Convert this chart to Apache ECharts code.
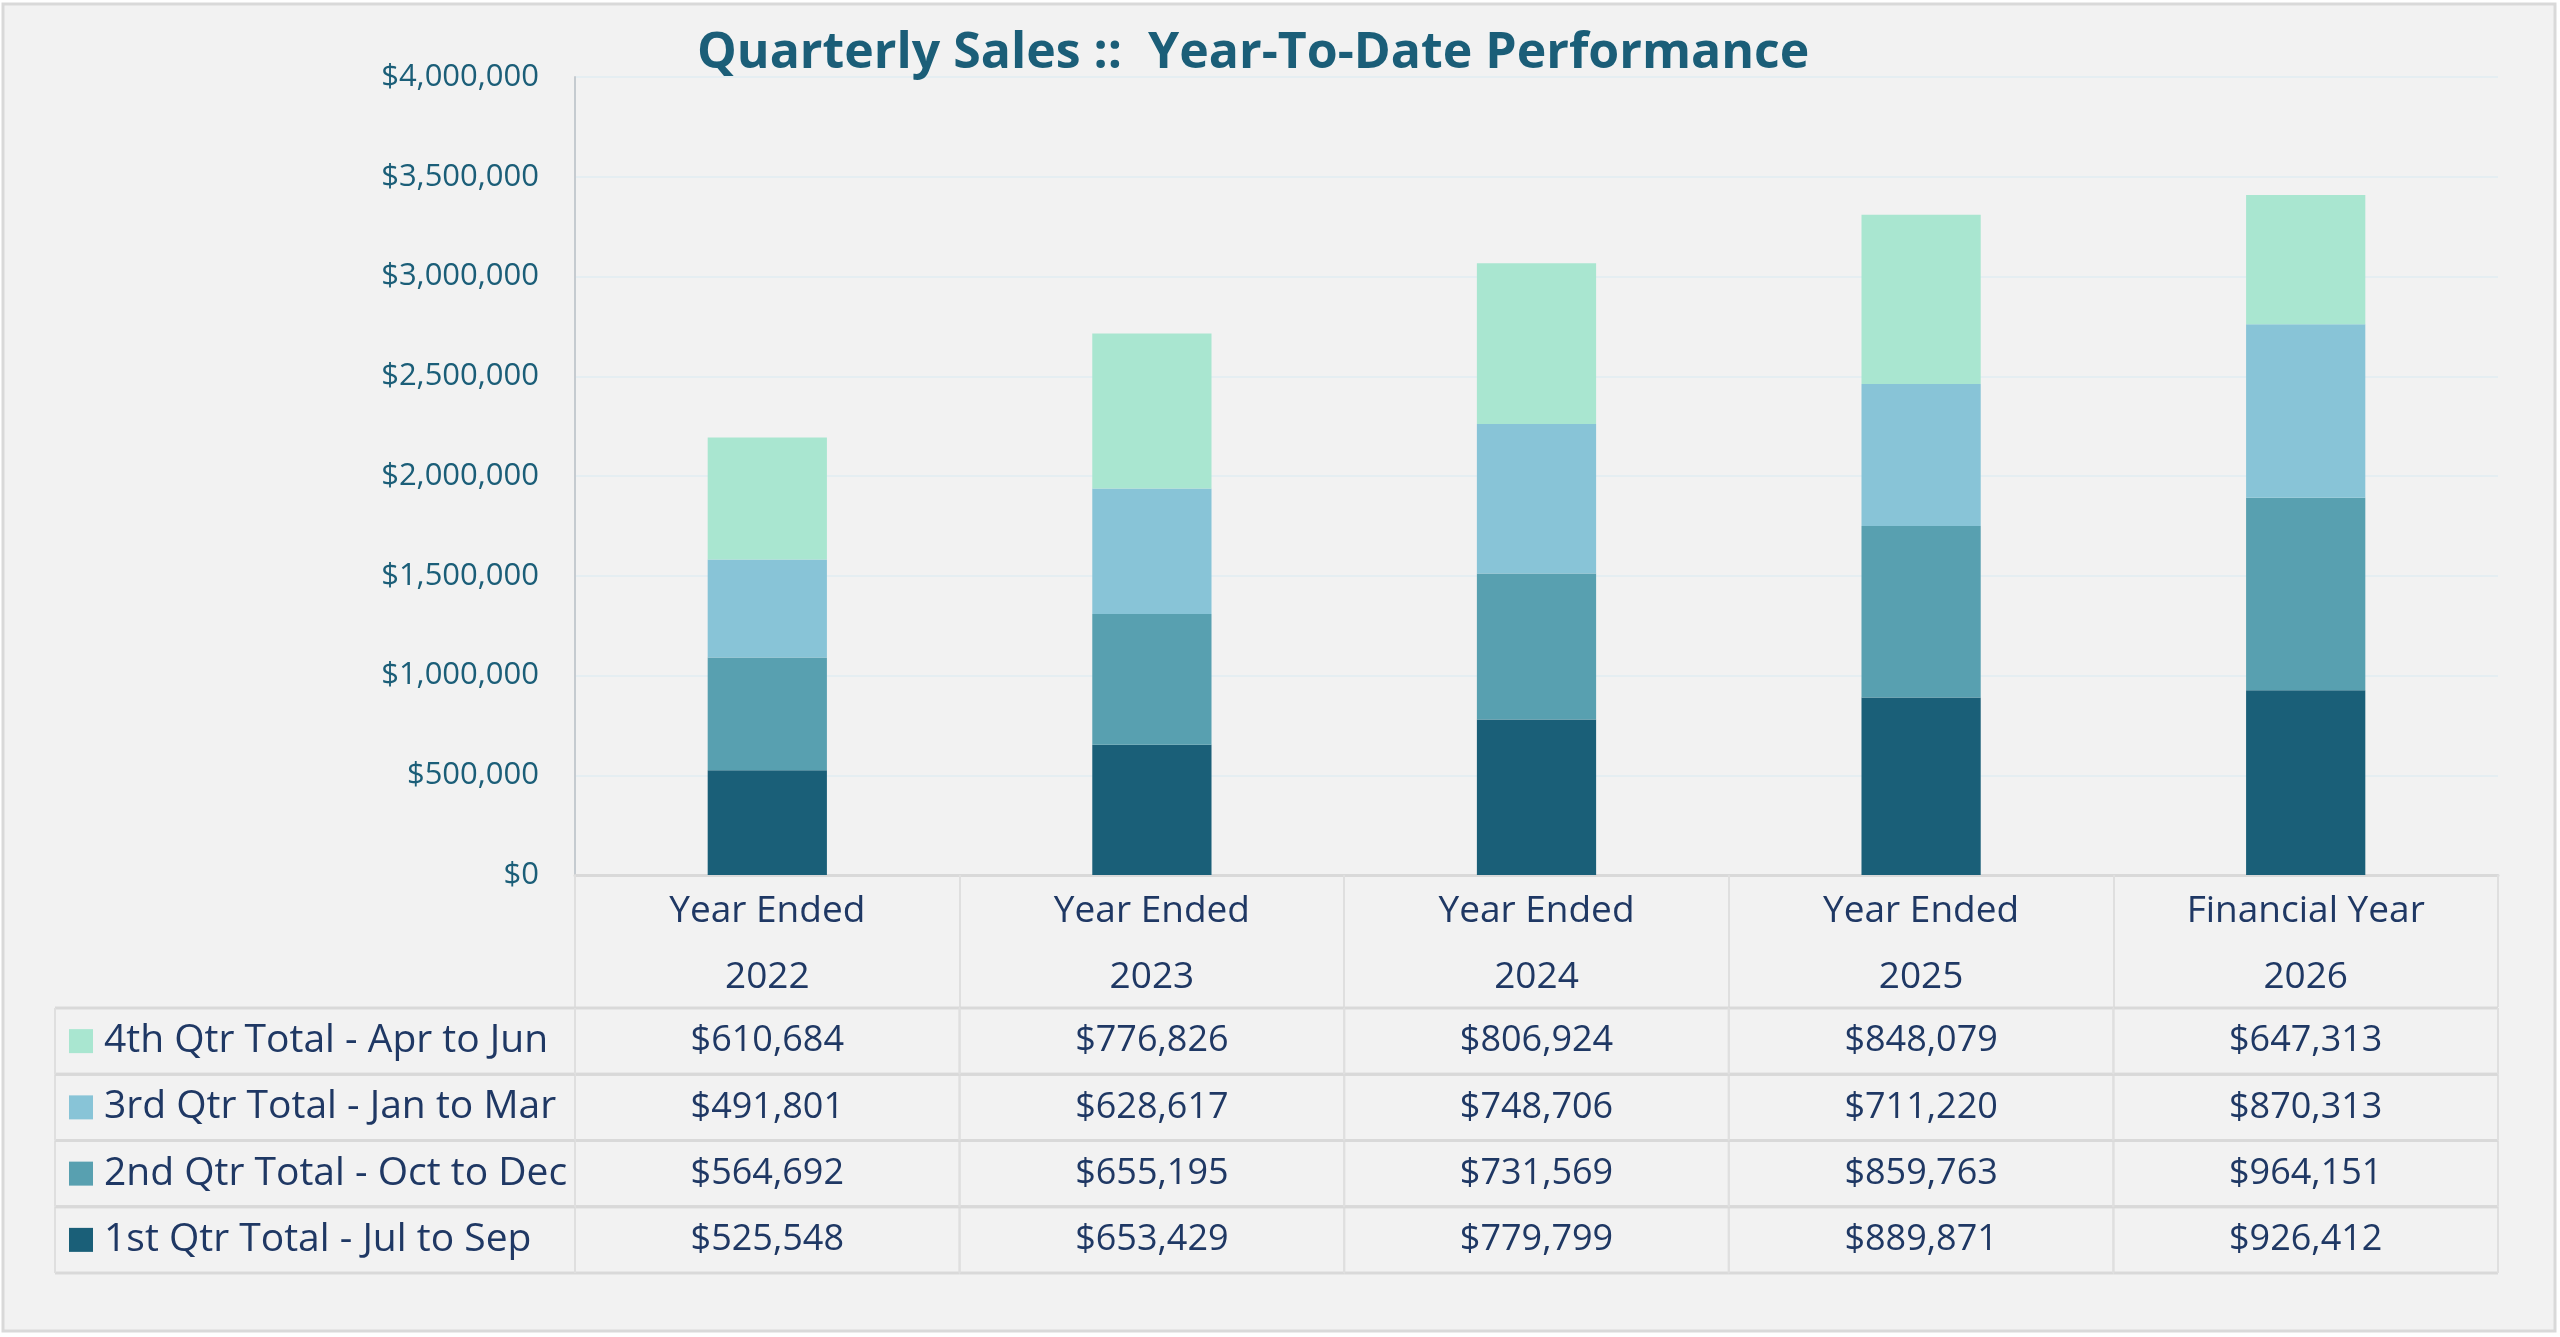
<!DOCTYPE html>
<html>
<head>
<meta charset="utf-8">
<script src="https://cdn.jsdelivr.net/npm/echarts@6/dist/echarts.min.js"></script>
<style>
  html, body { margin: 0; padding: 0; background: #ffffff; }
  #chart { width: 2560px; height: 1337px; }
</style>
</head>
<body>
<div id="chart"></div>
<script>
// categories (two header lines per column)
const catLine1 = ["Year Ended", "Year Ended", "Year Ended", "Year Ended", "Financial Year"];
const catLine2 = ["2022", "2023", "2024", "2025", "2026"];

// quarterly series, bottom of the stack first
const seriesNames = [
  "1st Qtr Total - Jul to Sep",
  "2nd Qtr Total - Oct to Dec",
  "3rd Qtr Total - Jan to Mar",
  "4th Qtr Total - Apr to Jun",
];
const q1 = [525548, 653429, 779799, 889871, 926412];
const q2 = [564692, 655195, 731569, 859763, 964151];
const q3 = [491801, 628617, 748706, 711220, 870313];
const q4 = [610684, 776826, 806924, 848079, 647313];

// value axis ticks
const yMin = 0;
const yMax = 4000000;
const yStep = 500000;

const title = "Quarterly Sales ::  Year-To-Date Performance";

const colors = ["#1a5f78", "#58a0b0", "#88c4d7", "#a9e6d0"];
const textNavy = "#1f3864";
const teal = "#1b5e78";
const hLine = "#d9d9d9";
const vLine = "#dfdfdf";
const font = '"Open Sans", "Noto Sans", sans-serif';

const seriesValues = [q1, q2, q3, q4];
const categories = catLine1.map((t, i) => t + "\n" + catLine2[i]);
const money = (v) => "$" + Math.round(v).toLocaleString("en-US");

// table cells: [col, row, value]
const cells = [];
seriesValues.forEach((vals, r) => vals.forEach((v, c) => cells.push([c, r, v])));
const legendCells = seriesNames.map((n, r) => [0, r]);

function cellBorders(x0, y0, w, h) {
  return [
    { type: "line", shape: { x1: x0, y1: y0, x2: x0 + w, y2: y0 }, style: { stroke: hLine, lineWidth: 3 } },
    { type: "line", shape: { x1: x0, y1: y0 + h, x2: x0 + w, y2: y0 + h }, style: { stroke: hLine, lineWidth: 3 } },
    { type: "line", shape: { x1: x0, y1: y0, x2: x0, y2: y0 + h }, style: { stroke: vLine, lineWidth: 2 } },
    { type: "line", shape: { x1: x0 + w, y1: y0, x2: x0 + w, y2: y0 + h }, style: { stroke: vLine, lineWidth: 2 } },
  ];
}

const chart = echarts.init(document.getElementById("chart"));

const option = {
  backgroundColor: "#ffffff",
  animation: false,
  title: {
    text: title,
    left: 692,
    top: 24,
    textStyle: { fontFamily: font, fontSize: 50, fontWeight: "bold", color: teal },
  },
  graphic: [
    {
      type: "rect",
      z: -10,
      shape: { x: 3, y: 4, width: 2552, height: 1327 },
      style: { fill: "#f2f2f2", stroke: "#d9d9d9", lineWidth: 3 },
    },
  ],
  grid: [
    { left: 575, top: 77, width: 1923, height: 798 },
    { left: 575, top: 1008, width: 1923, height: 265 },
    { left: 55, top: 1008, width: 520, height: 265 },
  ],
  xAxis: [
    {
      gridIndex: 0,
      type: "category",
      data: categories,
      axisLine: { lineStyle: { color: hLine, width: 3 } },
      axisTick: { show: true, length: 132, lineStyle: { color: vLine, width: 2 } },
      axisLabel: {
        margin: 3,
        fontFamily: font,
        fontSize: 37,
        lineHeight: 66,
        color: textNavy,
        verticalAlign: "top",
      },
    },
    { gridIndex: 1, type: "category", data: categories, show: false },
    { gridIndex: 2, type: "category", data: ["legend"], show: false },
  ],
  yAxis: [
    {
      gridIndex: 0,
      type: "value",
      min: yMin,
      max: yMax,
      interval: yStep,
      axisLine: { show: true, lineStyle: { color: "#c5cbd0", width: 2 } },
      axisTick: { show: false },
      splitLine: { lineStyle: { color: "#e5eef2", width: 2 } },
      axisLabel: {
        margin: 36,
        fontFamily: font,
        fontSize: 31,
        color: teal,
        formatter: money,
      },
    },
    { gridIndex: 1, type: "category", data: seriesNames, show: false },
    { gridIndex: 2, type: "category", data: seriesNames, show: false },
  ],
  series: seriesValues
    .map((vals, i) => ({
      name: seriesNames[i],
      type: "bar",
      stack: "total",
      xAxisIndex: 0,
      yAxisIndex: 0,
      barWidth: "31%",
      itemStyle: { color: colors[i] },
      data: vals,
    }))
    .concat([
      {
        type: "custom",
        xAxisIndex: 1,
        yAxisIndex: 1,
        data: cells,
        renderItem: function (params, api) {
          const c = api.value(0);
          const r = api.value(1);
          const p = api.coord([c, r]);
          const s = api.size([1, 1]);
          const x0 = p[0] - s[0] / 2;
          const y0 = p[1] - s[1] / 2;
          return {
            type: "group",
            children: cellBorders(x0, y0, s[0], s[1]).concat([
              {
                type: "text",
                x: p[0],
                y: p[1],
                style: {
                  text: money(api.value(2)),
                  fill: textNavy,
                  font: "36px " + font,
                  align: "center",
                  verticalAlign: "middle",
                },
              },
            ]),
          };
        },
      },
      {
        type: "custom",
        xAxisIndex: 2,
        yAxisIndex: 2,
        data: legendCells,
        renderItem: function (params, api) {
          const r = api.value(1);
          const p = api.coord([0, r]);
          const s = api.size([1, 1]);
          const x0 = p[0] - s[0] / 2;
          const y0 = p[1] - s[1] / 2;
          return {
            type: "group",
            children: cellBorders(x0, y0, s[0], s[1]).concat([
              {
                type: "rect",
                shape: { x: x0 + 14, y: p[1] - 12, width: 24, height: 24 },
                style: { fill: colors[r] },
              },
              {
                type: "text",
                x: x0 + 49,
                y: p[1],
                style: {
                  text: seriesNames[r],
                  fill: textNavy,
                  font: "39px " + font,
                  align: "left",
                  verticalAlign: "middle",
                },
              },
            ]),
          };
        },
      },
    ]),
};

chart.setOption(option);
window.addEventListener("resize", chart.resize);
</script>
</body>
</html>
